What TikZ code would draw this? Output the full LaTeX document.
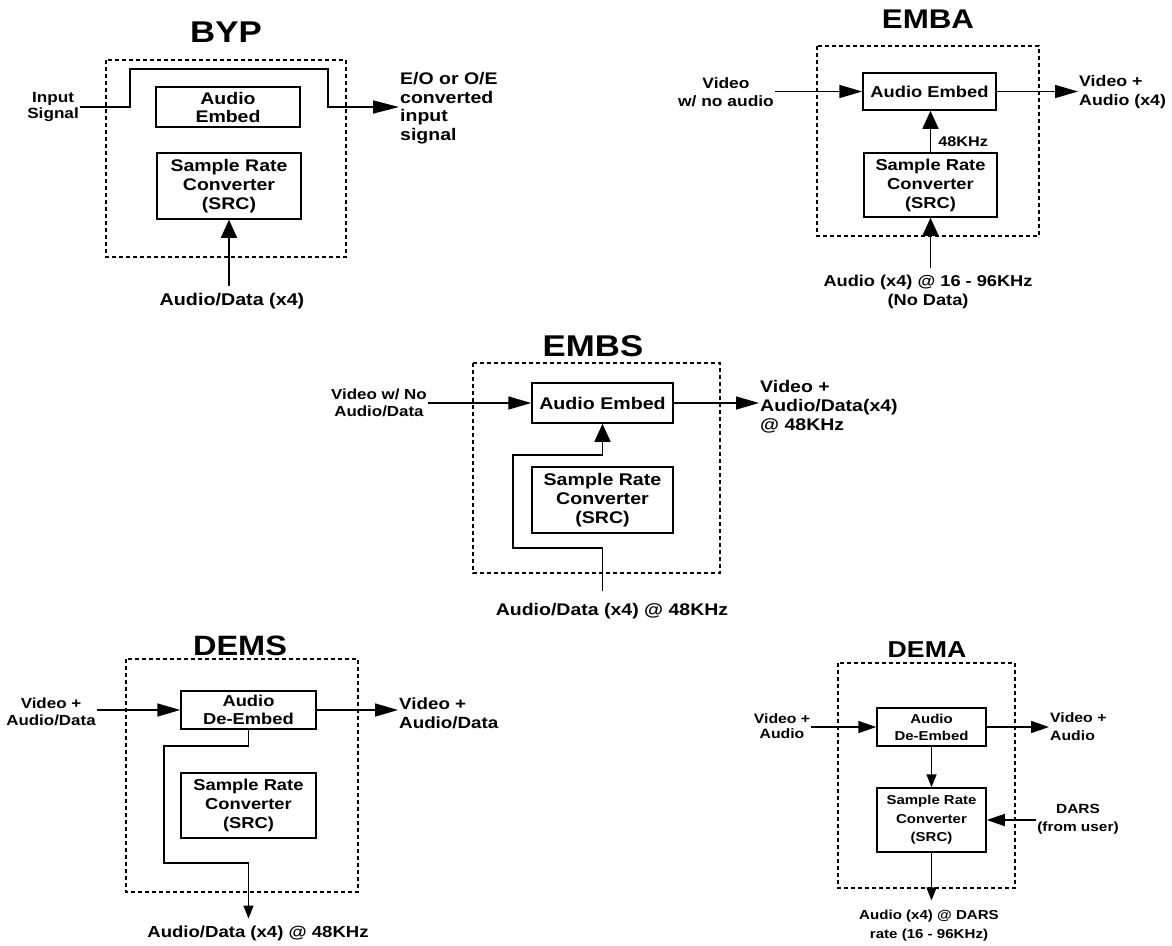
\documentclass[tikz,border=0pt]{standalone}
\usepackage{fontspec}
\setmainfont[FakeStretch=1.16]{Liberation Sans}
\usetikzlibrary{arrows.meta,positioning}

\begin{document}
\begin{tikzpicture}[
  x=1pt, y=-1pt,
  box/.style={draw,line width=1.5pt,align=center,inner sep=0pt,
              font=\fontsize{#1}{19}\selectfont\bfseries},
  box/.default=16.5,
  lbl/.style 2 args={align=center,inner sep=1pt,
              font=\fontsize{#1}{#2}\selectfont\bfseries},
  foot/.style={outer sep=6pt},
  title/.style={inner sep=0pt,font=\fontsize{#1}{30}\selectfont\bfseries},
  title/.default=30,
  frame/.style={line width=1.2pt,dash pattern=on 4pt off 3pt},
  wire/.style={line width=1.5pt},
  harr/.style={wire,-{Triangle[length=23pt,width=13pt]}},
  sharr/.style={wire,-{Triangle[length=18pt,width=12pt]}},
  varr/.style={wire,-{Triangle[length=18pt,width=16pt]}},
  sarr/.style={wire,-{Triangle[length=13pt,width=10pt]}}
]
\useasboundingbox (0,0) rectangle (1172,945);

% BYP
\node[title] (byp-t) at (226,32) {BYP};
\draw[frame] (106,60) rectangle (346,257);
\node[box=16.8,minimum width=144pt,minimum height=40pt,font=\fontsize{16.8}{18}\selectfont\bfseries] (byp-emb) at (228,107) {Audio\\Embed};
\node[box=16.8,minimum width=144pt,minimum height=66pt] (byp-src) at (229,186) {Sample Rate\\Converter\\(SRC)};
\node[lbl={14.8}{16},anchor=east] (byp-in) at (80,107) {Input\\Signal};
\node[lbl={16.8}{18.5},anchor=west,align=left] (byp-out) at (399,108) {E/O or O/E\\converted\\input\\signal};
\node[lbl={17}{18.5},foot] (byp-data) at (232,301) {Audio/Data (x4)};
\draw[wire,-{Triangle[length=26pt,width=13pt]}] (byp-in.east) -| (130,69) -| (328,107) -- (byp-out.west |- byp-in.east);
\draw[varr] (byp-data.north -| byp-src) -- (byp-src.south);

% EMBA
\node[title=27] (emba-t) at (928,19) {EMBA};
\draw[frame] (817,46) rectangle (1039,236);
\node[box=15.8,minimum width=133pt,minimum height=37pt] (emba-emb) at (929.5,91.5) {Audio Embed};
\node[box=15.8,minimum width=133pt,minimum height=64pt] (emba-src) at (930.5,185) {Sample Rate\\Converter\\(SRC)};
\node[lbl={15}{18}] (emba-in) at (726,92) {Video\\w/ no audio};
\node[lbl={15.3}{19},anchor=west,align=left] (emba-out) at (1078,92) {Video +\\Audio (x4)};
\node[lbl={15.7}{19},foot] (emba-aud) at (928,292) {Audio (x4) @ 16 - 96KHz\\(No Data)};
\draw[harr] (emba-in.east |- emba-emb) -- (emba-emb.west);
\draw[harr] (emba-emb.east) -- (emba-out.west |- emba-emb);
\draw[varr] (emba-src.north) -- node[pos=0.26,right=6pt,inner sep=1pt,font=\fontsize{14}{16}\selectfont\bfseries] (emba-rate) {48KHz} (emba-src.north |- emba-emb.south);
\draw[varr] (emba-aud.north -| emba-src) -- (emba-src.south);

% EMBS
\node[title] (embs-t) at (593,346) {EMBS};
\draw[frame] (473,363) rectangle (720,573);
\node[box=16.9,minimum width=141pt,minimum height=40pt] (embs-emb) at (602.5,403) {Audio Embed};
\node[box=16.9,minimum width=141pt,minimum height=66pt] (embs-src) at (602.5,500) {Sample Rate\\Converter\\(SRC)};
\node[lbl={14.6}{16.5},anchor=east] (embs-in) at (428,403) {Video w/ No\\Audio/Data};
\node[lbl={16.8}{19},anchor=west,align=left] (embs-out) at (759,407) {Video +\\Audio/Data(x4)\\@ 48KHz};
\node[lbl={16.8}{19},foot,outer sep=11pt] (embs-aud) at (612,611) {Audio/Data (x4) @ 48KHz};
\draw[harr] (embs-in.east) -- (embs-emb.west);
\draw[harr] (embs-emb.east) -- (embs-emb.east -| embs-out.west);
\draw[varr] (embs-aud.north -| embs-emb) -- (602.5,548) -| (513,455) -| (embs-emb.south);

% DEMS
\node[title=28] (dems-t) at (240,646) {DEMS};
\draw[frame] (126,659) rectangle (358,892);
\node[box=15.8,minimum width=135pt,minimum height=38pt,font=\fontsize{15.8}{18}\selectfont\bfseries] (dems-demb) at (248.5,710) {Audio\\De-Embed};
\node[box=15.8,minimum width=135pt,minimum height=65pt] (dems-src) at (248.5,805.5) {Sample Rate\\Converter\\(SRC)};
\node[lbl={14.6}{16.5}] (dems-in) at (51,712) {Video +\\Audio/Data};
\node[lbl={16.2}{19},anchor=west,align=left] (dems-out) at (398,713) {Video +\\Audio/Data};
\node[lbl={16}{19},foot] (dems-aud) at (258,933) {Audio/Data (x4) @ 48KHz};
\draw[harr] (dems-in.east |- dems-demb) -- (dems-demb.west);
\draw[harr] (dems-demb.east) -- (dems-demb.east -| dems-out.west);
\draw[sarr] (dems-demb.south) |- (164,746) |- (248.5,863) -- (dems-demb.south |- dems-aud.north);

% DEMA
\node[title=23] (dema-t) at (927,650) {DEMA};
\draw[frame] (838,663) rectangle (1015,888);
\node[box=12.9,minimum width=109pt,minimum height=38pt,font=\fontsize{12.9}{17}\selectfont\bfseries] (dema-demb) at (931.5,727) {Audio\\De-Embed};
\node[box=12.9,minimum width=109pt,minimum height=64pt,font=\fontsize{12.9}{18.5}\selectfont\bfseries] (dema-src) at (931.5,820) {Sample Rate\\Converter\\(SRC)};
\node[lbl={13.6}{15.5}] (dema-in) at (782,726) {Video +\\Audio};
\node[lbl={13.6}{18},anchor=west,align=left] (dema-out) at (1049,727) {Video +\\Audio};
\node[lbl={13.3}{18}] (dema-dars) at (1078,819) {DARS\\(from user)};
\node[lbl={13}{19},foot,outer sep=9pt] (dema-aud) at (929,926) {Audio (x4) @ DARS\\rate (16 - 96KHz)};
\draw[sharr] (dema-in.east |- dema-demb) -- (dema-demb.west);
\draw[sharr] (dema-demb.east) -- (dema-demb.east -| dema-out.west);
\draw[sarr] (dema-demb.south) -- (dema-src.north);
\draw[sharr] (dema-dars.west |- dema-src) -- (dema-src.east);
\draw[sarr] (dema-src.south) -- (dema-src.south |- dema-aud.north);
\end{tikzpicture}
\end{document}
